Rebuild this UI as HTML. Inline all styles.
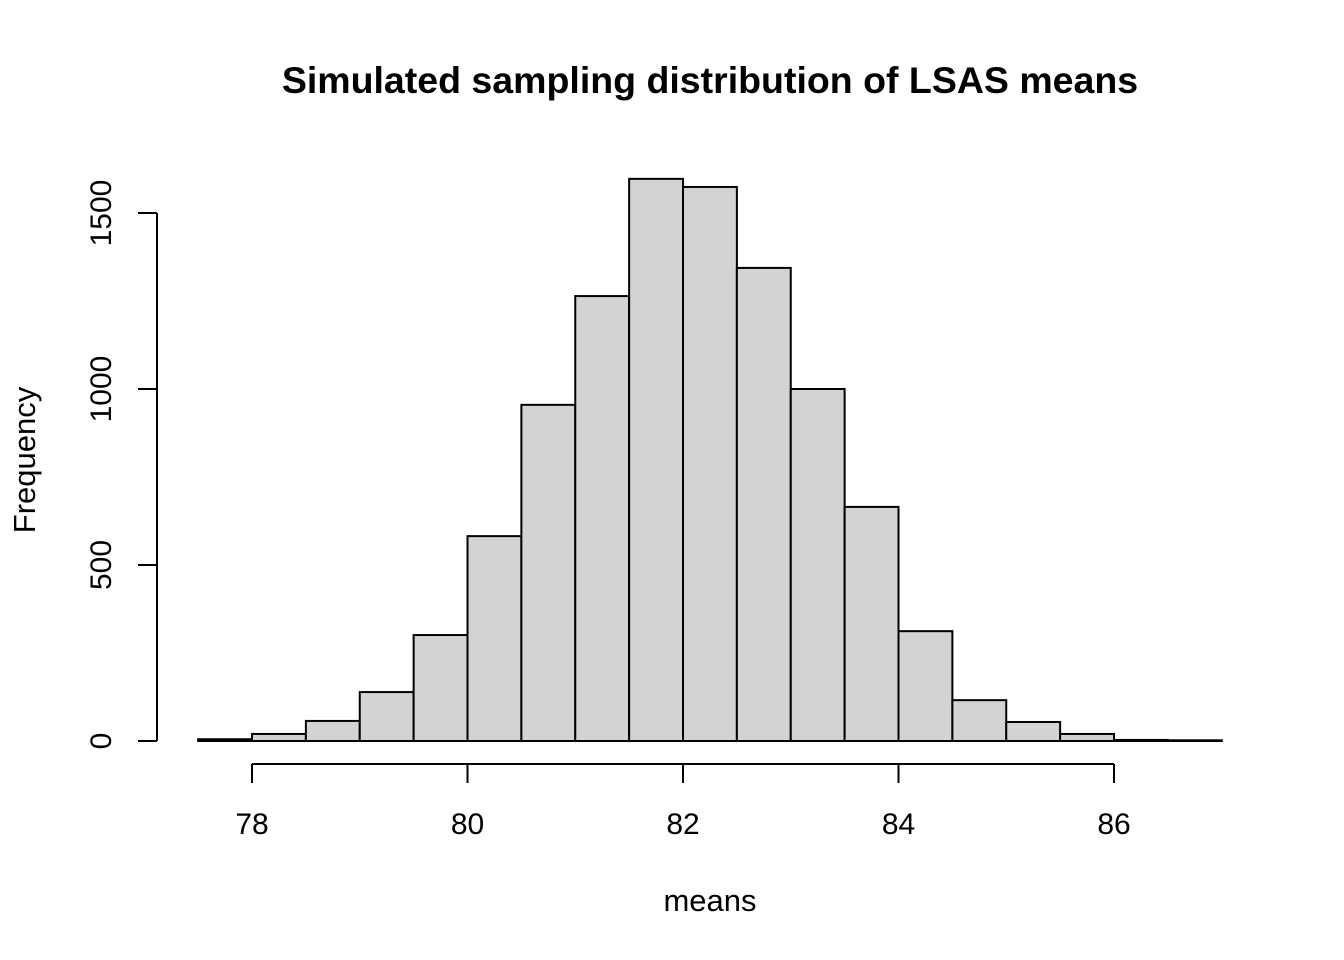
<!DOCTYPE html>
<html><head><meta charset="utf-8"><style>
body{margin:0;background:#fff}
svg{display:block;font-family:"Liberation Sans",Arial,sans-serif}
</style></head><body>
<svg id="c" width="1344" height="960">
<text x="710" y="93" text-anchor="middle" font-size="37.5" font-weight="bold">Simulated sampling distribution of LSAS means</text>
<text x="710" y="911" text-anchor="middle" font-size="31">means</text>
<text transform="translate(35,460) rotate(-90)" text-anchor="middle" font-size="31">Frequency</text>
<g id="bars"></g>
<g id="xaxis"></g>
<g id="yaxis"></g>
</svg>
<script>
const binStarts=[77.5,78,78.5,79,79.5,80,80.5,81,81.5,82,82.5,83,83.5,84,84.5,85,85.5,86,86.5];
const counts=[5,20,57,139,301,582,955,1264,1597,1574,1344,1000,665,312,116,54,20,3,2];
const binWidth=0.5;
const xTicks=[78,80,82,84,86];
const yTicks=[0,500,1000,1500];
const NS="http://www.w3.org/2000/svg";
const X=v=>252+(v-78)*107.75;
const Y=v=>741-v*0.352;
function mk(t,a,p){const e=document.createElementNS(NS,t);for(const k in a)e.setAttribute(k,a[k]);p.appendChild(e);return e;}
const bars=document.getElementById('bars');
binStarts.forEach((s,i)=>{
 const r=mk('rect',{x:X(s),y:Y(counts[i]),width:X(s+binWidth)-X(s),height:741-Y(counts[i]),fill:'#d3d3d3',stroke:'#000','stroke-width':2},bars);
 
 
});
const xa=document.getElementById('xaxis');
mk('line',{x1:X(xTicks[0]),x2:X(xTicks[xTicks.length-1]),y1:764,y2:764,stroke:'#000','stroke-width':2},xa);
xTicks.forEach(t=>{
 mk('line',{x1:X(t),x2:X(t),y1:764,y2:783,stroke:'#000','stroke-width':2},xa);
 const tx=mk('text',{x:X(t),y:834,'text-anchor':'middle','font-size':30},xa);tx.textContent=t;
 
 
});
const ya=document.getElementById('yaxis');
mk('line',{x1:157,x2:157,y1:Y(yTicks[0]),y2:Y(yTicks[yTicks.length-1]),stroke:'#000','stroke-width':2},ya);
yTicks.forEach(t=>{
 mk('line',{x1:138,x2:157,y1:Y(t),y2:Y(t),stroke:'#000','stroke-width':2},ya);
 const tx=mk('text',{transform:`translate(111,${Y(t)}) rotate(-90)`,'text-anchor':'middle','font-size':30},ya);tx.textContent=t;
 
 
});
</script>
</body></html>
